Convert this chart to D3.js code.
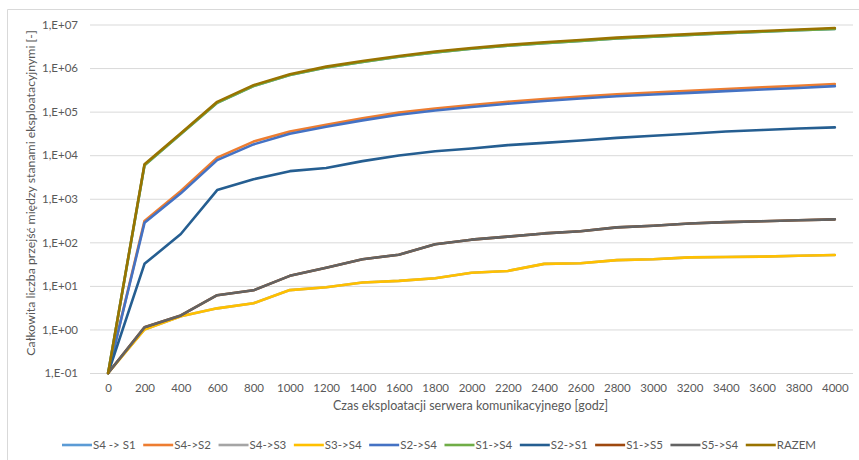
<!DOCTYPE html>
<html>
<head>
<meta charset="utf-8">
<script src="https://cdn.jsdelivr.net/npm/d3@7"></script>
<style>
  html, body { margin: 0; padding: 0; background: #ffffff; }
  svg { display: block; }
  text { font-family: Lato, "Open Sans", sans-serif; fill: #595959; }
</style>
</head>
<body>
<svg id="chart" width="859" height="460"></svg>
<script>
// Operating time of the communication server [h]
const categories = [0, 200, 400, 600, 800, 1000, 1200, 1400, 1600, 1800, 2000,
  2200, 2400, 2600, 2800, 3000, 3200, 3400, 3600, 3800, 4000];

// Cumulative number of transitions between operating states
const s4s1 = [0.1, 5900, 30500, 160000, 385000, 690000, 1030000, 1380000, 1810000, 2290000, 2770000,
  3250000, 3730000, 4200000, 4780000, 5260000, 5740000, 6310000, 6790000, 7360000, 7930000];
const s4s2 = [0.1, 310, 1500, 8800, 20500, 35000, 50000, 70000, 95000, 118000, 142000,
  168000, 195000, 222000, 250000, 275000, 300000, 330000, 360000, 392000, 430000];
const s4s3 = [0.1, 1.0, 2.0, 3.05, 4.0, 8.0, 9.3, 12, 13, 15, 20,
  22, 32, 33, 39, 41, 45, 46, 47, 49, 51];
const s3s4 = [0.1, 1.0, 2.0, 3.05, 4.0, 8.0, 9.3, 12, 13, 15, 20,
  22, 32, 33, 39, 41, 45, 46, 47, 49, 51];
const s2s4 = [0.1, 280, 1330, 7700, 17700, 31000, 45000, 63000, 85000, 106000, 128000,
  151000, 176000, 200000, 225000, 247000, 269000, 295000, 322000, 350000, 385000];
const s1s4 = [0.1, 5900, 30500, 160000, 385000, 690000, 1030000, 1380000, 1810000, 2290000, 2770000,
  3250000, 3730000, 4200000, 4780000, 5260000, 5740000, 6310000, 6790000, 7360000, 7930000];
const s2s1 = [0.1, 32, 155, 1580, 2800, 4300, 5100, 7300, 9800, 12300, 14200,
  17000, 19200, 21800, 25000, 28000, 31000, 35000, 38000, 41000, 43500];
const s1s5 = [0.1, 1.12, 2.1, 6.1, 7.9, 17, 26, 41, 52, 90, 115,
  135, 160, 180, 220, 240, 270, 290, 305, 320, 337];
const s5s4 = [0.1, 1.12, 2.1, 6.1, 7.9, 17, 26, 41, 52, 90, 115,
  135, 160, 180, 220, 240, 270, 290, 305, 320, 337];
const razem = [0.1, 6200, 32000, 168000, 405000, 720000, 1080000, 1450000, 1900000, 2400000, 2900000,
  3400000, 3900000, 4400000, 5000000, 5500000, 6000000, 6600000, 7100000, 7700000, 8300000];

const seriesNames = ["S4 -> S1", "S4->S2", "S4->S3", "S3->S4", "S2->S4",
  "S1->S4", "S2->S1", "S1->S5", "S5->S4", "RAZEM"];
const seriesValues = [s4s1, s4s2, s4s3, s3s4, s2s4, s1s4, s2s1, s1s5, s5s4, razem];
const seriesColors = ["#5B9BD5", "#ED7D31", "#A5A5A5", "#FFC000", "#4472C4",
  "#70AD47", "#255E91", "#9E480E", "#636363", "#997300"];

const yTicks = [1e-1, 1e0, 1e1, 1e2, 1e3, 1e4, 1e5, 1e6, 1e7];

const xTitle = "Czas eksploatacji serwera komunikacyjnego [godz]";
const yTitle = "Całkowita liczba przejść między stanami eksploatacyjnymi [-]";

const svg = d3.select("#chart");
const plot = { left: 90, right: 853, top: 24.5, bottom: 373 };

// Outer chart frame (only the left and top edges fall inside the canvas)
svg.append("path")
  .attr("d", "M7.5,460 V9.5 H859")
  .attr("fill", "none")
  .attr("stroke", "#d9d9d9")
  .attr("stroke-width", 1);

const x = d3.scalePoint()
  .domain(categories)
  .range([plot.left, plot.right])
  .padding(0.5);

const y = d3.scaleLog()
  .domain([1e-1, 1e7])
  .range([plot.bottom, plot.top]);

// "1,E+07" style labels
const fmtExp = v => {
  const e = Math.round(Math.log10(v));
  const s = e < 0 ? "-" : "+";
  return "1,E" + s + String(Math.abs(e)).padStart(2, "0");
};

// Horizontal gridlines + y tick labels
const yAxis = d3.axisLeft(y)
  .tickValues(yTicks)
  .tickFormat(fmtExp)
  .tickSize(-(plot.right - plot.left))
  .tickPadding(12);

const gy = svg.append("g")
  .attr("transform", `translate(${plot.left},0)`)
  .call(yAxis);
gy.select(".domain").remove();
gy.selectAll(".tick line").attr("stroke", "#d9d9d9").attr("stroke-width", 1);
gy.selectAll(".tick text")
  .attr("font-size", 11.5)
  .style("font-family", "Lato, 'Open Sans', sans-serif")
  .attr("fill", "#595959");

// X axis labels (no tick marks)
const xAxis = d3.axisBottom(x).tickSize(0).tickPadding(11);
const gx = svg.append("g")
  .attr("transform", `translate(0,${plot.bottom})`)
  .call(xAxis);
gx.select(".domain").remove();
gx.selectAll(".tick text")
  .attr("font-size", 11.5)
  .style("font-family", "Lato, 'Open Sans', sans-serif")
  .attr("fill", "#595959");

// Axis titles
svg.append("text")
  .attr("x", (plot.left + plot.right) / 2 - 1)
  .attr("y", 410)
  .attr("text-anchor", "middle")
  .attr("font-size", 12.5)
  .text(xTitle);

svg.append("text")
  .attr("transform", `translate(35,193) rotate(-90)`)
  .attr("text-anchor", "middle")
  .attr("font-size", 12.3)
  .text(yTitle);

// Series lines
const line = d3.line()
  .x((d, i) => x(categories[i]))
  .y(d => y(d));

const gLines = svg.append("g");
seriesValues.forEach((vals, k) => {
  gLines.append("path")
    .datum(vals)
    .attr("d", line)
    .attr("fill", "none")
    .attr("stroke", seriesColors[k])
    .attr("stroke-width", 2.6)
    .attr("stroke-linejoin", "round")
    .attr("stroke-linecap", "round");
});

// Legend: one row spread between fixed left and right bounds
const legend = svg.append("g");
const legendY = 445;
const legendLeft = 62, legendRight = 816;
const sampleLen = 30;
const items = seriesNames.map((name, k) => {
  const g = legend.append("g");
  g.append("line")
    .attr("x1", 0).attr("x2", sampleLen)
    .attr("y1", 0).attr("y2", 0)
    .attr("stroke", seriesColors[k])
    .attr("stroke-width", 2.6);
  const t = g.append("text")
    .attr("x", sampleLen + 1)
    .attr("y", 4.2)
    .attr("font-size", 11.5)
    .text(name);
  return { g, w: sampleLen + 1 + t.node().getComputedTextLength() };
});
const gap = (legendRight - legendLeft - d3.sum(items, d => d.w)) / (items.length - 1);
let cx = legendLeft;
items.forEach(it => {
  it.g.attr("transform", `translate(${cx},${legendY})`);
  cx += it.w + gap;
});
</script>
</body>
</html>
